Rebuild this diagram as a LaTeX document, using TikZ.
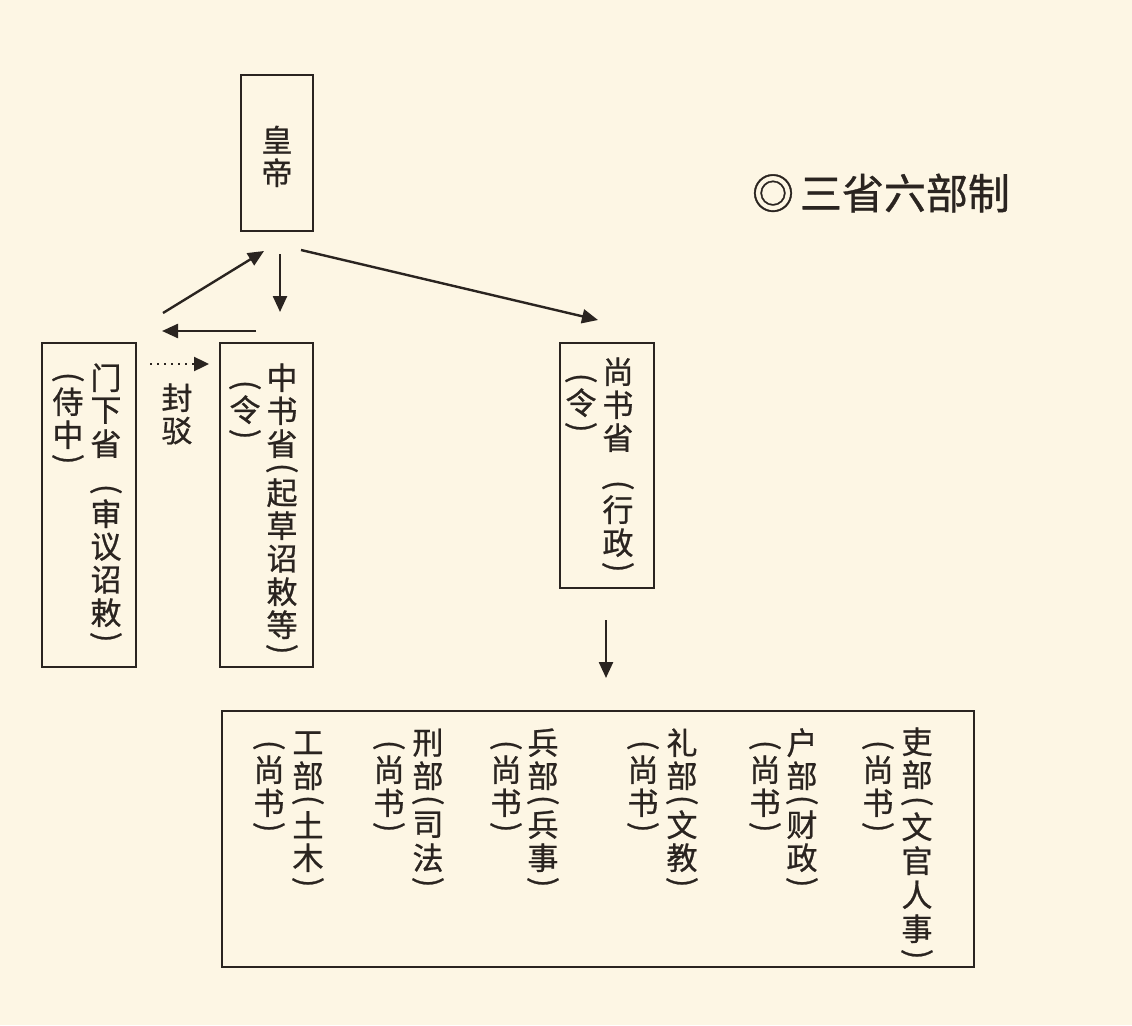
\documentclass[tikz,border=0pt]{standalone}
\usepackage{fontspec}
\usepackage{graphicx}
\newfontfamily\cjk{Noto Sans CJK SC}[FakeBold=0.8]
\usetikzlibrary{arrows.meta}
\definecolor{bg}{HTML}{FDF6E4}
\definecolor{inkc}{HTML}{2A2420}
% one character cell of a vertical column
\newcommand\vc[1]{\hbox to 36pt{\hss\vbox to 33pt{\vss\hbox{#1}\vss}\hss}}
% vertical brackets
\newcommand\vo{\hbox to 36pt{\hss\vbox to 16pt{\vss\hbox{\rotatebox{-90}{(}}\vss}\hss}}
\newcommand\vcl{\hbox to 36pt{\hss\vbox to 16pt{\vss\hbox{\rotatebox{-90}{)}}\vss}\hss}}
\newcommand\vsp[1]{\vbox to #1{}}
\newcommand\vcol[1]{\vbox{\offinterlineskip #1}}
\begin{document}
\begin{tikzpicture}[x=1pt,y=-1pt,
  box/.style={draw=inkc,line width=2pt,inner sep=0pt,rectangle},
  col/.style={anchor=north,inner sep=0pt,text=inkc,font=\cjk\fontsize{31}{33}\selectfont},
  arr/.style={draw=inkc,line width=2.4pt,-{Triangle[length=16pt,width=14pt]}},
  dotarr/.style={draw=inkc,line width=2.4pt,dash pattern=on 2pt off 5pt,-{Triangle[length=15pt,width=14pt]}}]
\fill[bg] (0,0) rectangle (1132,1025);
\useasboundingbox (0,0) rectangle (1132,1025);

% title
\node[text=inkc,font=\cjk\fontsize{42}{44}\selectfont,inner sep=0pt] (title) at (881,193) {◎\hspace{6pt}三省六部制};

% boxes
\node[box,minimum width=72pt,minimum height=156pt] (huangdi) at (277,153) {};
\node[box,minimum width=94pt,minimum height=324pt] (menxia) at (89,505) {};
\node[box,minimum width=93pt,minimum height=324pt] (zhongshu) at (266.5,505) {};
\node[box,minimum width=94pt,minimum height=245pt] (shangshu) at (607,465.5) {};
\node[box,minimum width=752pt,minimum height=256pt] (liubu) at (598,839) {};

% texts
\node[col] (hd) at (277,123) {\vcol{\vc{皇}\vc{帝}}};

\node[col] (mx1) at (106,361) {\vcol{\vc{门}\vc{下}\vc{省}\vsp{21pt}\vo\vc{审}\vc{议}\vc{诏}\vc{敕}\vcl}};
\node[col] (mx2) at (68,369) {\vcol{\vo\vc{侍}\vc{中}\vcl}};

\node[col] (zs1) at (282,361) {\vcol{\vc{中}\vc{书}\vc{省}\vo\vc{起}\vc{草}\vc{诏}\vc{敕}\vc{等}\vcl}};
\node[col] (zs2) at (245,377) {\vcol{\vo\vc{令}\vcl}};

\node[col] (ss1) at (618,355) {\vcol{\vc{尚}\vc{书}\vc{省}\vsp{23pt}\vo\vc{行}\vc{政}\vcl}};
\node[col] (ss2) at (581,370) {\vcol{\vo\vc{令}\vcl}};

\node[col] (fb) at (177,381) {\vcol{\vc{封}\vc{驳}}};

\node[col] (gb1) at (308,726) {\vcol{\vc{工}\vc{部}\vo\vc{土}\vc{木}\vcl}};
\node[col] (gb2) at (269,737) {\vcol{\vo\vc{尚}\vc{书}\vcl}};
\node[col] (xb1) at (428,726) {\vcol{\vc{刑}\vc{部}\vo\vc{司}\vc{法}\vcl}};
\node[col] (xb2) at (389,737) {\vcol{\vo\vc{尚}\vc{书}\vcl}};
\node[col] (bb1) at (543,726) {\vcol{\vc{兵}\vc{部}\vo\vc{兵}\vc{事}\vcl}};
\node[col] (bb2) at (506,737) {\vcol{\vo\vc{尚}\vc{书}\vcl}};
\node[col] (lb1) at (682,726) {\vcol{\vc{礼}\vc{部}\vo\vc{文}\vc{教}\vcl}};
\node[col] (lb2) at (643,737) {\vcol{\vo\vc{尚}\vc{书}\vcl}};
\node[col] (hb1) at (802,726) {\vcol{\vc{户}\vc{部}\vo\vc{财}\vc{政}\vcl}};
\node[col] (hb2) at (765,737) {\vcol{\vo\vc{尚}\vc{书}\vcl}};
\node[col] (yb1) at (917,725) {\vcol{\vc{吏}\vc{部}\vsp{2pt}\vo\vsp{1pt}\vc{文}\vsp{1pt}\vc{官}\vsp{1pt}\vc{人}\vsp{1pt}\vc{事}\vsp{1pt}\vcl}};
\node[col] (yb2) at (878,737) {\vcol{\vo\vc{尚}\vc{书}\vcl}};

% connector end points
\coordinate (a1s) at (163,313); \coordinate (a1e) at (264,251);
\coordinate (a2s) at (280,254); \coordinate (a2e) at (280,312);
\coordinate (a3s) at (256,331); \coordinate (a3e) at (162,331);
\coordinate (a4s) at (301,250); \coordinate (a4e) at (598,320);
\coordinate (a5s) at (150,364); \coordinate (a5e) at (209,364);
\coordinate (a6s) at (606,620); \coordinate (a6e) at (606,678);

\draw[arr] (a1s) -- (a1e);
\draw[arr] (a2s) -- (a2e);
\draw[arr] (a3s) -- (a3e);
\draw[arr] (a4s) -- (a4e);
\draw[dotarr] (a5s) -- (a5e);
\draw[arr] (a6s) -- (a6e);
\end{tikzpicture}
\end{document}
